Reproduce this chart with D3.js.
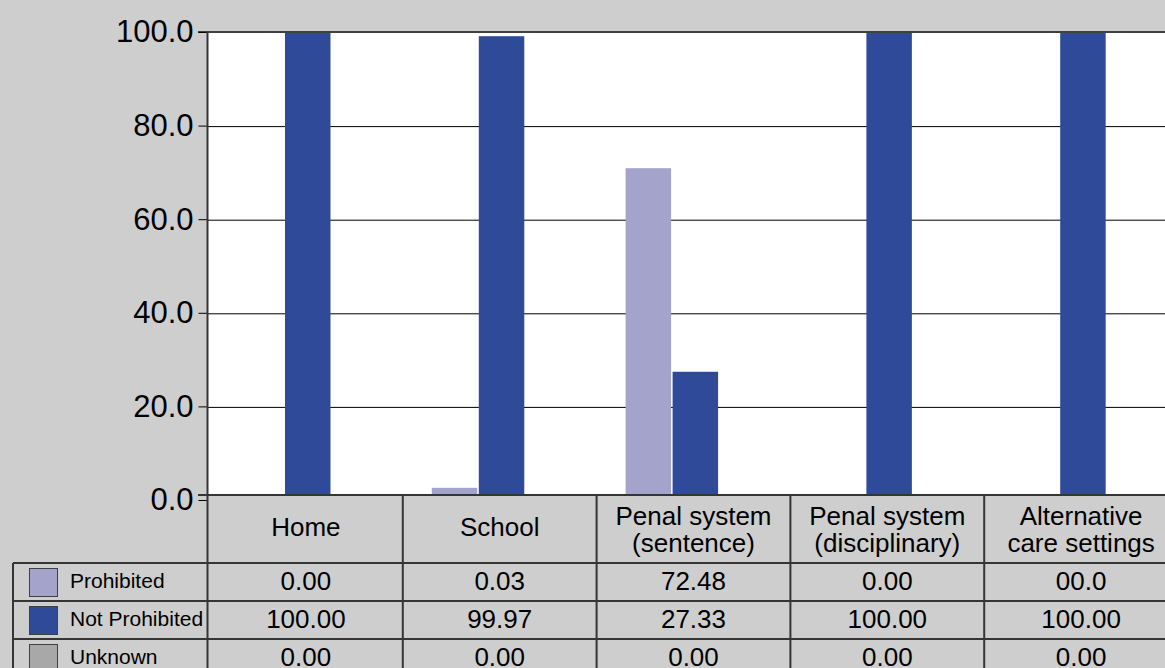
<!DOCTYPE html>
<html>
<head>
<meta charset="utf-8">
<script src="https://cdn.jsdelivr.net/npm/d3@7"></script>
<style>
  body { margin: 0; background: #cecece; }
  svg { display: block; font-family: "Liberation Sans", Arial, sans-serif; }
</style>
</head>
<body>
<div id="chart"></div>
<script>
// Chart data
var categories = ["Home", "School", "Penal system\n(sentence)", "Penal system\n(disciplinary)", "Alternative\ncare settings"];
var seriesNames = ["Prohibited", "Not Prohibited", "Unknown"];
var seriesColors = ["#a3a3cc", "#2e4a98", "#a8a8a8"];

// bar heights as drawn
var prohibited = [0, 2.6, 70.9, 0, 0];
var notProhibited = [100, 99.1, 27.4, 100, 100];
var unknown = [0, 0, 0, 0, 0];

// values printed in the data table
var prohibitedLabels = ["0.00", "0.03", "72.48", "0.00", "00.0"];
var notProhibitedLabels = ["100.00", "99.97", "27.33", "100.00", "100.00"];
var unknownLabels = ["0.00", "0.00", "0.00", "0.00", "0.00"];

var yTicks = [0, 20, 40, 60, 80, 100];

// Size of chart area
var svgWidth = 1165;
var svgHeight = 668;

var plotLeft = 207.5;
var plotTop = 32;
var plotBottom = 495;
var rowHeight = 38;
var headerBottom = 563;
var legendLeft = 13;

var svg = d3.select("#chart")
  .append("svg")
  .attr("width", svgWidth)
  .attr("height", svgHeight);

svg.append("rect")
  .attr("width", svgWidth)
  .attr("height", svgHeight)
  .attr("fill", "#cecece");

// Scales
var xScale = d3.scaleBand()
  .domain(categories)
  .range([209, 1178])
  .padding(0);

var x1Scale = d3.scaleBand()
  .domain(seriesNames)
  .range([2, xScale.bandwidth() + 2])
  .paddingOuter(0.585);

var yScale = d3.scaleLinear()
  .domain([0, 100])
  .range([500, plotTop]);

// Plot background
svg.append("rect")
  .attr("x", plotLeft)
  .attr("y", plotTop)
  .attr("width", svgWidth - plotLeft)
  .attr("height", plotBottom - plotTop)
  .attr("fill", "#ffffff");

// Gridlines
var grid = svg.append("g")
  .attr("transform", `translate(${plotLeft}, 0.5)`)
  .call(d3.axisLeft(yScale).tickValues(yTicks.slice(1, 5)).tickSize(-(svgWidth - plotLeft)).tickFormat(""));
grid.select(".domain").remove();
grid.selectAll(".tick line").attr("stroke", "#000").attr("stroke-width", 1);

// Bars
var barData = categories.map(function(c, i) {
  return [
    { cat: c, series: seriesNames[0], value: prohibited[i] },
    { cat: c, series: seriesNames[1], value: notProhibited[i] },
    { cat: c, series: seriesNames[2], value: unknown[i] }
  ];
});

svg.append("g")
  .selectAll("g")
  .data(barData)
  .enter()
  .append("g")
  .attr("transform", d => `translate(${xScale(d[0].cat)}, 0)`)
  .selectAll("rect")
  .data(d => d)
  .enter()
  .append("rect")
  .attr("x", d => Math.round(x1Scale(d.series)))
  .attr("y", d => yScale(d.value))
  .attr("width", x1Scale.bandwidth() - 1)
  .attr("height", d => yScale(0) - yScale(d.value))
  .attr("fill", (d, i) => seriesColors[i]);

// Top border
svg.append("line")
  .attr("x1", 198).attr("x2", svgWidth)
  .attr("y1", plotTop).attr("y2", plotTop)
  .attr("stroke", "#404040")
  .attr("stroke-width", 2);

// Y axis labels
var leftAxis = svg.append("g")
  .attr("transform", `translate(${plotLeft}, 0)`)
  .call(d3.axisLeft(yScale).tickValues(yTicks).tickSize(9).tickPadding(5).tickFormat(d3.format(".1f")));
leftAxis.select(".domain").remove();
leftAxis.selectAll(".tick line").attr("stroke", "#000");
leftAxis.selectAll(".tick text")
  .attr("font-size", "31px")
  .attr("font-family", "'Liberation Sans', Arial, sans-serif")
  .attr("fill", "#000");

// Data table: header row covers the baseline
svg.append("rect")
  .attr("x", plotLeft)
  .attr("y", plotBottom)
  .attr("width", svgWidth - plotLeft)
  .attr("height", svgHeight - plotBottom)
  .attr("fill", "#cecece");

var lineColor = "#353535";

svg.append("line")
  .attr("x1", 198).attr("x2", svgWidth)
  .attr("y1", plotBottom).attr("y2", plotBottom)
  .attr("stroke", lineColor).attr("stroke-width", 2);

// row lines
[headerBottom, headerBottom + rowHeight, headerBottom + 2 * rowHeight].forEach(function(yy) {
  svg.append("line")
    .attr("x1", legendLeft).attr("x2", svgWidth)
    .attr("y1", yy).attr("y2", yy)
    .attr("stroke", lineColor).attr("stroke-width", 2);
});

// column lines
svg.append("line")
  .attr("x1", legendLeft).attr("x2", legendLeft)
  .attr("y1", headerBottom).attr("y2", svgHeight)
  .attr("stroke", lineColor).attr("stroke-width", 2);

svg.append("line")
  .attr("x1", plotLeft).attr("x2", plotLeft)
  .attr("y1", plotTop).attr("y2", svgHeight)
  .attr("stroke", lineColor).attr("stroke-width", 2);

categories.slice(1).forEach(function(c) {
  svg.append("line")
    .attr("x1", xScale(c)).attr("x2", xScale(c))
    .attr("y1", plotBottom).attr("y2", svgHeight)
    .attr("stroke", lineColor).attr("stroke-width", 2);
});

// category labels
var catText = svg.append("g")
  .selectAll("text")
  .data(categories)
  .enter()
  .append("text")
  .attr("text-anchor", "middle")
  .attr("font-size", "26px")
  .attr("fill", "#000")
  .attr("x", d => xScale(d) + xScale.bandwidth() / 2);

catText.each(function(d) {
  var lines = d.split("\n");
  var t = d3.select(this);
  var y0 = lines.length == 1 ? 536 : 525;
  lines.forEach(function(l, i) {
    t.append("tspan")
      .attr("x", xScale(d) + xScale.bandwidth() / 2)
      .attr("y", y0 + i * 27)
      .text(l);
  });
});

// legend rows + values
var tableRows = [prohibitedLabels, notProhibitedLabels, unknownLabels];

tableRows.forEach(function(row, r) {
  var rowTop = headerBottom + r * rowHeight;

  svg.append("rect")
    .attr("x", 29.5)
    .attr("y", rowTop + 5.5)
    .attr("width", 28)
    .attr("height", 28)
    .attr("fill", seriesColors[r])
    .attr("stroke", "#404040")
    .attr("stroke-width", 1);

  svg.append("text")
    .attr("x", 70)
    .attr("y", rowTop + 25)
    .attr("font-size", "21px")
    .attr("fill", "#000")
    .text(seriesNames[r]);

  svg.append("g")
    .selectAll("text")
    .data(row)
    .enter()
    .append("text")
    .attr("text-anchor", "middle")
    .attr("x", (d, i) => xScale(categories[i]) + xScale.bandwidth() / 2)
    .attr("y", rowTop + 26.5)
    .attr("font-size", "26px")
    .attr("fill", "#000")
    .text(d => d);
});
</script>
</body>
</html>
